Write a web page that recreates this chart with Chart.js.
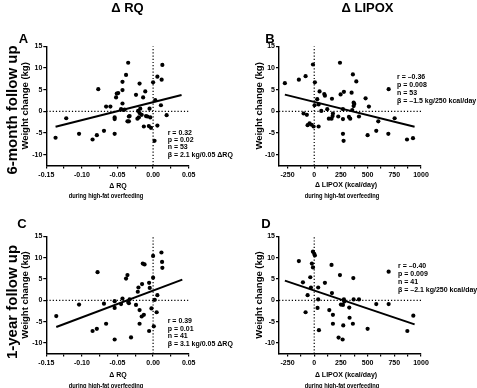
<!DOCTYPE html>
<html lang="en">
<head>
<meta charset="UTF-8">
<title>Weight change vs RQ and LIPOX</title>
<style>
  body { margin: 0; background: #fff; font-family: "Liberation Sans", Arial, sans-serif; font-weight: bold; color: #000; }
  #wrap { position: relative; width: 477px; height: 388px; overflow: hidden; }
  canvas { position: absolute; }
  .lbl { position: absolute; white-space: nowrap; line-height: 1; transform: translate(-50%, -50%); }
  .col { font-size: 13px; }
  .row { font-size: 15px; transform: translate(-50%, -50%) rotate(-90deg); }
  .letter { font-size: 13px; }
  .xt { font-size: 7px; }
  .xt.narrow { transform: translate(-50%, -50%) scaleX(0.82); }
  .stats { position: absolute; font-size: 7px; white-space: nowrap; }
</style>
<script src="https://cdn.jsdelivr.net/npm/chart.js"></script>
</head>
<body>
<div id="wrap">
  <canvas id="chartA" width="238" height="200" style="left:0;top:0"></canvas>
  <canvas id="chartB" width="239" height="200" style="left:238px;top:0"></canvas>
  <canvas id="chartC" width="238" height="188" style="left:0;top:200px"></canvas>
  <canvas id="chartD" width="239" height="188" style="left:238px;top:200px"></canvas>

  <div class="lbl col" style="left:127.5px;top:7px">Δ RQ</div>
  <div class="lbl col" style="left:367.5px;top:7px">Δ LIPOX</div>
  <div class="lbl row" style="left:11px;top:110px">6-month follow up</div>
  <div class="lbl row" style="left:11px;top:302px">1-year follow up</div>

  <div class="lbl letter" style="left:23.5px;top:38px">A</div>
  <div class="lbl letter" style="left:270px;top:38px">B</div>
  <div class="lbl letter" style="left:22px;top:222.5px">C</div>
  <div class="lbl letter" style="left:266px;top:222.5px">D</div>

  <div class="lbl xt" style="left:118px;top:185px">Δ RQ</div>
  <div class="lbl xt narrow" style="left:105.5px;top:195px">during high-fat overfeeding</div>
  <div class="lbl xt" style="left:346px;top:184px">Δ LIPOX (kcal/day)</div>
  <div class="lbl xt narrow" style="left:341.5px;top:195px">during high-fat overfeeding</div>
  <div class="lbl xt" style="left:118px;top:373.5px">Δ RQ</div>
  <div class="lbl xt narrow" style="left:105.5px;top:384.5px">during high-fat overfeeding</div>
  <div class="lbl xt" style="left:346px;top:373.5px">Δ LIPOX (kcal/day)</div>
  <div class="lbl xt narrow" style="left:341.5px;top:384.5px">during high-fat overfeeding</div>

  <div class="stats" id="statsA" style="left:167.7px;top:128.6px;line-height:7.35px"></div>
  <div class="stats" id="statsB" style="left:397px;top:73.4px;line-height:7.9px"></div>
  <div class="stats" id="statsC" style="left:167.7px;top:317.2px;line-height:7.55px"></div>
  <div class="stats" id="statsD" style="left:398px;top:262.4px;line-height:7.8px"></div>
</div>

<script>
// tick labels
const rqTicks = [-0.15, -0.10, -0.05, 0.00, 0.05];
const lipoxTicks = [-250, 0, 250, 500, 750, 1000];
const weightTicks = [-10, -5, 0, 5, 10, 15];

// A: 6-month, delta RQ
const rq6 = [-0.137,-0.122,-0.104,-0.085,-0.079,-0.077,-0.069,-0.066,-0.060,-0.054,-0.054,-0.054,-0.052,-0.051,-0.049,-0.045,-0.043,-0.043,-0.043,-0.038,-0.035,-0.042,-0.036,-0.034,-0.034,-0.033,-0.024,-0.021,-0.019,-0.022,-0.020,-0.019,-0.018,-0.014,-0.011,-0.013,-0.010,-0.006,-0.005,-0.004,-0.003,0.000,0.002,0.003,0.006,0.006,0.011,0.012,0.013,0.019,-0.040,-0.016,-0.008];
const wtRq6 = [-6.1,-1.6,-5.2,-6.5,-5.5,5.1,-4.5,1.1,1.1,-5.2,-1.4,-1.8,3.2,4.1,4.2,0.5,1.8,4.9,6.8,8.4,11.2,0.3,-2.3,-2.3,-1.2,-1.1,3.8,0.1,6.4,-1.7,-1.4,-0.4,0.6,3.2,4.6,-3.5,-1.1,-3.4,0.6,-1.4,-3.8,6.7,-6.8,2.6,-3.3,8.0,1.4,7.3,10.7,-0.9,0.4,-0.8,-1.2];
const fitRq6X = [-0.137, 0.040];
const fitRq6Y = [-3.55, 3.75];
const statsRq6 = ['r = 0.32', 'p = 0.02', 'n = 53', 'β = 2.1 kg/0.05 ΔRQ'];

// B: 6-month, delta LIPOX
const lipox6 = [-275,-144,-81,-12,6,241,362,394,697,50,94,100,166,247,278,350,481,512,3,28,41,66,122,175,172,137,162,225,269,269,325,337,369,369,356,375,419,-100,-69,-44,-62,-25,41,-6,600,753,269,275,500,581,694,869,925];
const wtLipox6 = [6.5,7.3,8.1,10.8,6.7,11.2,8.5,6.9,5.1,4.6,4.0,3.6,2.9,3.9,4.5,4.3,3.0,1.1,1.4,2.8,1.6,0.1,0.5,-0.5,-1.1,-1.7,-1.7,-1.2,0.5,-1.8,-1.3,-1.7,1.2,2.0,0.3,1.7,-1.2,-0.5,-0.8,-2.8,-3.2,-3.1,-3.5,-3.5,-2.3,-1.6,-5.2,-6.8,-5.5,-4.5,-5.2,-6.5,-6.2];
const fitLipox6X = [-275, 940];
const fitLipox6Y = [3.85, -3.55];
const statsLipox6 = ['r = –0.36', 'p = 0.008', 'n = 53', 'β = –1.5 kg/250 kcal/day'];

// C: 1-year, delta RQ
const rq12 = [-0.136,-0.104,-0.085,-0.079,-0.078,-0.069,-0.066,-0.054,-0.054,-0.054,-0.045,-0.043,-0.038,-0.036,-0.035,-0.033,-0.031,-0.034,-0.024,-0.0215,-0.0206,-0.019,-0.019,-0.016,-0.0155,-0.013,-0.0145,-0.012,-0.0056,-0.0056,-0.0047,-0.0023,0.000,0.000,0.001,0.0023,0.006,0.005,0.0117,0.0126,0.013];
const wtRq12 = [-3.7,-1.0,-7.2,-6.7,6.6,-0.8,-5.5,-0.2,-1.8,-9.2,-0.9,0.4,5.1,5.9,-0.4,0.2,-8.7,-0.7,-1.1,2.0,3.0,-2.3,-5.5,-3.8,3.8,-3.4,8.6,8.4,4.1,-7.2,2.9,-1.9,10.4,5.3,-6.1,0.1,1.2,-2.8,11.2,9.0,7.6];
const fitRq12X = [-0.136, 0.041];
const fitRq12Y = [-6.25, 4.85];
const statsRq12 = ['r = 0.39', 'p = 0.01', 'n = 41', 'β = 3.1 kg/0.05 ΔRQ'];

// D: 1-year, delta LIPOX
const lipox12 = [-144,-12,0,6,-22,-12,162,-37,-106,-62,-31,37,100,241,366,697,166,37,278,281,369,419,581,697,250,269,328,31,-81,141,175,331,362,175,272,44,500,228,266,872,928];
const wtLipox12 = [9.2,11.4,10.9,10.5,8.6,7.7,8.3,5.4,4.2,1.2,3.0,3.0,4.1,5.9,5.2,6.7,1.7,0.2,0.2,-0.3,0.2,0.2,-0.9,-0.9,-1.0,-1.1,-1.7,-1.8,-2.8,-2.3,-3.4,-4.1,-5.5,-5.5,-5.9,-7.0,-6.7,-8.75,-9.2,-7.2,-3.6];
const fitLipox12X = [-275, 940];
const fitLipox12Y = [4.6, -5.65];
const statsLipox12 = ['r = –0.40', 'p = 0.009', 'n = 41', 'β = –2.1 kg/250 kcal/day'];

const yMin = -12.5, yMax = 15;
const fontFamily = "'Liberation Sans', Arial, sans-serif";
Chart.defaults.font.family = fontFamily;
Chart.defaults.color = '#000';

// major ticks get labels, a blank minor tick sits half way between them
function withMinor(major) {
    const out = [];
    major.forEach((v, i) => {
        out.push({ value: v, lbl: true });
        if (i < major.length - 1) out.push({ value: (v + major[i + 1]) / 2, lbl: false });
    });
    return out;
}

function toPoints(xs, ys) {
    return xs.map((v, i) => ({ x: v, y: ys[i] }));
}

function makePanel(id, p) {
    const tickFont = { family: fontFamily, size: 7, weight: 'bold' };
    const dotted = { showLine: true, borderColor: '#000', borderWidth: 1.2, borderDash: [1.2, 2], pointRadius: 0, order: 2 };
    new Chart(document.getElementById(id), {
        type: 'scatter',
        data: {
            datasets: [
                { data: toPoints(p.xs, p.ys), backgroundColor: '#000', borderWidth: 0, pointRadius: 2.1, pointHoverRadius: 2.1, order: 0 },
                { data: toPoints(p.fitX, p.fitY), showLine: true, borderColor: '#000', borderWidth: 2, pointRadius: 0, order: 1 },
                Object.assign({ data: [{ x: p.xMin, y: 0 }, { x: p.xMax, y: 0 }] }, dotted),
                Object.assign({ data: [{ x: 0, y: yMin }, { x: 0, y: yMax }] }, dotted)
            ]
        },
        options: {
            responsive: false,
            animation: false,
            events: [],
            layout: { padding: { left: 0, top: p.padTop, right: p.padRight, bottom: 0 } },
            plugins: { legend: { display: false }, tooltip: { enabled: false } },
            scales: {
                x: {
                    type: 'linear',
                    min: p.xMin,
                    max: p.xMax,
                    afterBuildTicks: s => { s.ticks = withMinor(p.xTicks); },
                    afterFit: s => { s.height = p.xHeight; },
                    ticks: {
                        autoSkip: false, maxRotation: 0, padding: 2, color: '#000', font: tickFont,
                        callback: (v, i, ticks) => ticks[i].lbl ? p.fmt(v) : ''
                    },
                    grid: { drawOnChartArea: false, tickLength: 3, color: '#000', lineWidth: 1.2 },
                    border: { color: '#000', width: 1.4 }
                },
                y: {
                    type: 'linear',
                    min: yMin,
                    max: yMax,
                    afterBuildTicks: s => { s.ticks = weightTicks.map(v => ({ value: v })); },
                    afterFit: s => { s.width = p.yWidth; },
                    ticks: { autoSkip: false, padding: 1, color: '#000', font: tickFont },
                    grid: { drawOnChartArea: false, tickLength: 3, color: '#000', lineWidth: 1.2 },
                    border: { color: '#000', width: 1.4 },
                    title: {
                        display: true, text: 'Weight change (kg)', color: '#000',
                        font: { family: fontFamily, size: 9.5, weight: 'bold' },
                        padding: { top: p.titlePad, bottom: 0 }
                    }
                }
            }
        }
    });
    document.getElementById(p.statsId).innerHTML = p.stats.join('<br>');
}

const fmtRq = v => v.toFixed(2);
const fmtLipox = v => String(v);

makePanel('chartA', { xs: rq6, ys: wtRq6, fitX: fitRq6X, fitY: fitRq6Y, xMin: -0.15, xMax: 0.05, xTicks: rqTicks, fmt: fmtRq,
    padTop: 46.3, padRight: 49.3, xHeight: 34.5, yWidth: 46.3, titlePad: 19.3, stats: statsRq6, statsId: 'statsA' });
makePanel('chartB', { xs: lipox6, ys: wtLipox6, fitX: fitLipox6X, fitY: fitLipox6Y, xMin: -330, xMax: 1000, xTicks: lipoxTicks, fmt: fmtLipox,
    padTop: 46.3, padRight: 56, xHeight: 34.5, yWidth: 41, titlePad: 15.8, stats: statsLipox6, statsId: 'statsB' });
makePanel('chartC', { xs: rq12, ys: wtRq12, fitX: fitRq12X, fitY: fitRq12Y, xMin: -0.15, xMax: 0.05, xTicks: rqTicks, fmt: fmtRq,
    padTop: 36.3, padRight: 49.3, xHeight: 34.4, yWidth: 46.3, titlePad: 19.3, stats: statsRq12, statsId: 'statsC' });
makePanel('chartD', { xs: lipox12, ys: wtLipox12, fitX: fitLipox12X, fitY: fitLipox12Y, xMin: -330, xMax: 1000, xTicks: lipoxTicks, fmt: fmtLipox,
    padTop: 36.3, padRight: 56, xHeight: 34.4, yWidth: 41, titlePad: 15.8, stats: statsLipox12, statsId: 'statsD' });
</script>
</body>
</html>
